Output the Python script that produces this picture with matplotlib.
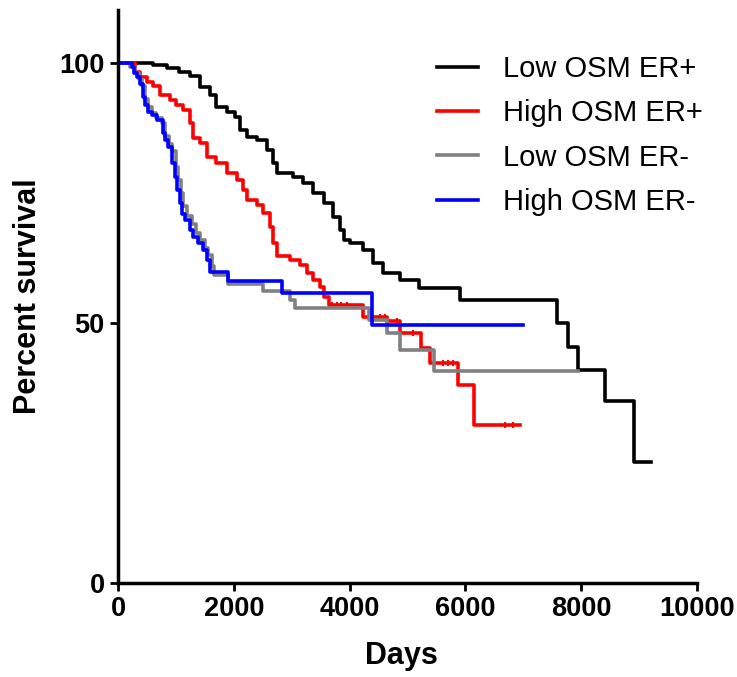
import matplotlib
matplotlib.use("Agg")
import matplotlib.pyplot as plt
import numpy as np

plt.rcParams['font.family'] = ['Liberation Sans', 'DejaVu Sans']

# Kaplan-Meier step data (days, percent survival)
low_pos_t = [0, 600, 850, 1050, 1250, 1420, 1590, 1700, 1880, 2020, 2110, 2220, 2400, 2570, 2680, 2740,
             3030, 3200, 3370, 3550, 3720, 3830, 3900, 4010, 4240, 4410, 4580, 4870, 5190, 5900, 7580,
             7770, 7940, 8410, 8910, 9200]
low_pos_s = [100, 99.6, 99, 98.2, 97.5, 95.4, 93.8, 91.6, 90.6, 89.7, 87.1, 85.8, 85.2, 83.3, 80.7, 78.8,
             78.1, 76.9, 75, 73, 70.4, 67.9, 66, 65.3, 64, 61.5, 59.6, 58.3, 56.7, 54.4, 50,
             45.4, 41, 35, 23.3, 23.3]

high_pos_t = [0, 290, 380, 495, 610, 725, 900, 1010, 1130, 1240, 1300, 1420, 1530, 1700, 1880, 2050, 2160,
              2220, 2400, 2510, 2620, 2680, 2740, 2970, 3140, 3260, 3370, 3490, 3550, 3650, 4240, 4640,
              4870, 5240, 5390, 5880, 6140, 6940]
high_pos_s = [100, 98.3, 97.3, 96.4, 95.6, 93.8, 92.9, 91.9, 91, 88.4, 85.5, 84.6, 82, 80.7, 78.8, 77.5, 75.6,
              73.7, 72.7, 71.1, 68.5, 65.3, 62.8, 62.1, 61.2, 59.6, 58.3, 57, 55.1, 53.5, 51.2, 50.3,
              48, 45.1, 42.3, 38.1, 30.4, 30.4]
high_pos_censor = [3690, 3780, 3860, 3950, 4520, 4610, 4820, 5100, 5610, 5700, 5790, 6680, 6820]

low_neg_t = [0, 200, 300, 360, 420, 470, 520, 580, 650, 760, 820, 880, 940, 1000, 1040, 1090, 1130, 1190,
             1270, 1340, 1420, 1500, 1560, 1620, 1650, 1900, 2510, 2970, 3060, 4330, 4640, 4870, 5450, 7940]
low_neg_s = [100, 99.3, 98, 97, 95.5, 93, 91.5, 90.3, 89.5, 88.5, 86, 84.5, 83, 80, 77.5, 75, 72.5, 70.5,
             69, 67.3, 66, 64.5, 63, 61, 59.2, 57.6, 56.2, 54.4, 52.8, 50.6, 48, 44.8, 40.8, 40.8]

high_neg_t = [0, 240, 270, 320, 380, 440, 470, 525, 580, 670, 780, 810, 870, 930, 985, 1015, 1070, 1100,
              1160, 1240, 1300, 1390, 1470, 1530, 1590, 1900, 2830, 4390, 6990]
high_neg_s = [100, 99.3, 98, 97.3, 96, 93.5, 91.9, 90.6, 90, 89, 86.5, 85.2, 83.9, 80.7, 78.1, 75.6, 73, 71,
              69.8, 67.9, 66.6, 65.3, 64, 62.1, 59.9, 58.1, 55.8, 49.6, 49.6]

labels = ['Low OSM ER+', 'High OSM ER+', 'Low OSM ER-', 'High OSM ER-']
colors = ['black', '#ff0000', '#808080', '#0000ff']

fig = plt.figure(figsize=(7.37, 6.77), dpi=100)
ax = fig.add_axes([118/737, 1-583/677, 579/737, 573/677])

lw = 2.6
ax.step(low_pos_t, low_pos_s, where='post', color=colors[0], lw=lw, label=labels[0])
ax.step(high_pos_t, high_pos_s, where='post', color=colors[1], lw=lw, label=labels[1])
# censor ticks on the red curve
idx = np.searchsorted(high_pos_t, high_pos_censor, side='right') - 1
ax.plot(high_pos_censor, np.array(high_pos_s)[idx], ls='none', marker='|', ms=5, mew=1.5, color=colors[1])
ax.step(low_neg_t, low_neg_s, where='post', color=colors[2], lw=lw, label=labels[2])
ax.step(high_neg_t, high_neg_s, where='post', color=colors[3], lw=lw, label=labels[3])

ax.set_xlim(0, 10000)
ax.set_ylim(0, 110.2)
ax.set_xticks([0, 2000, 4000, 6000, 8000, 10000])
ax.set_yticks([0, 50, 100])
for s in ['top', 'right']:
    ax.spines[s].set_visible(False)
for s in ['left', 'bottom']:
    ax.spines[s].set_linewidth(2.5)
ax.tick_params(direction='out', length=5.5, width=2, pad=4, labelsize=19.5)
for t in ax.get_xticklabels() + ax.get_yticklabels():
    t.set_fontweight('bold')

ax.set_xlabel('Days', fontsize=22, fontweight='bold')
ax.set_ylabel('Percent survival', fontsize=22, fontweight='bold')
ax.xaxis.set_label_coords(0.489, -0.102)
ax.yaxis.set_label_coords(-0.13, 0.5)

ax.legend(loc='upper left', bbox_to_anchor=(437/737, 1-55/677), bbox_transform=fig.transFigure,
          frameon=False, fontsize=21, handlelength=1.4, handletextpad=0.85, labelspacing=0.56,
          borderpad=0, borderaxespad=0)

fig.savefig('out.png', dpi=100)
